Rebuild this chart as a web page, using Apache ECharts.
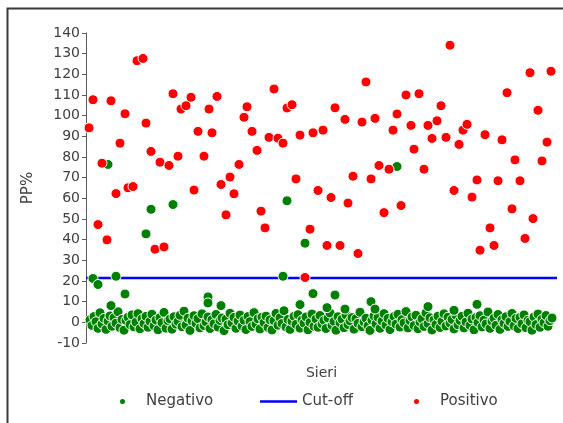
<!DOCTYPE html>
<html>
<head>
<meta charset="utf-8">
<script src="https://cdn.jsdelivr.net/npm/echarts@6/dist/echarts.min.js"></script>
<style>html,body{margin:0;padding:0;background:#fff}#c{width:563px;height:423px}</style>
</head>
<body>
<div id="c"></div>
<script>
// ---- data (x = sample position along "Sieri", y = PP%) ----
var yTicks = [-10, 0, 10, 20, 30, 40, 50, 60, 70, 80, 90, 100, 110, 120, 130, 140];
var cutoffValue = 21.5;
var sampleRange = [0, 471];

var positivoX = [3,7,12,16,21,25,30,34,39,42,47,51,57,60,65,69,74,78,83,87,92,95,100,105,108,112,118,123,126,131,135,140,144,148,153,158,161,166,171,175,179,183,188,192,197,201,206,210,214,219,224,227,232,237,241,245,249,254,259,262,267,272,276,280,285,289,293,298,303,307,311,315,320,325,328,333,338,342,346,351,355,360,364,368,373,377,381,386,391,394,399,404,408,412,416,421,426,429,434,439,444,447,452,456,461,465];
var positivoY = [94.1,107.7,47.3,77.0,39.9,107.2,62.3,86.7,100.9,65.1,65.7,126.6,127.7,96.4,82.7,35.4,77.5,36.5,75.9,110.6,80.4,103.2,104.8,108.9,64.0,92.4,80.4,103.2,91.7,109.3,66.7,52.0,70.3,62.2,76.4,99.2,104.3,92.4,83.2,53.8,45.7,89.5,112.9,89.1,86.7,103.7,105.3,69.4,90.6,21.7,45.1,91.7,63.8,93.0,37.2,60.4,103.8,37.2,98.2,57.7,70.7,33.3,96.9,116.3,69.4,98.7,75.9,53.1,74.1,93.0,100.8,56.5,110.0,95.3,83.8,110.6,74.1,95.3,89.0,97.5,104.8,89.5,134.1,63.8,86.1,93.0,95.8,60.6,68.9,34.9,90.8,45.7,37.2,68.5,88.3,111.1,54.9,78.6,68.5,40.6,120.8,50.2,102.6,78.1,87.2,121.5];

// negative sera near zero (sample positions 4, 6, 8, ...)
var negativoStart = 4;
var negativoStep = 2;
var negativoY = [
1.2,-1.5,2.8,0.3,-2.9,4.6,-0.8,1.9,-3.4,0.6,3.1,-1.9,2.2,-0.4,5.1,-2.6,1.4,-3.8,0.9,2.5,
-1.1,3.6,-2.2,0.1,4.2,-3.1,1.7,-0.6,2.9,-2.4,0.5,3.9,-1.7,1.1,-3.6,2.3,-0.2,4.8,-2.8,0.8,
1.6,-3.3,2.7,-0.9,0.4,3.4,-2.1,5.4,-1.3,2.0,-3.9,0.7,3.2,-0.5,1.8,-2.7,4.1,-1.6,0.2,2.6,
-3.0,1.3,-0.7,3.8,-2.3,0.9,2.1,-4.0,1.5,-1.2,4.4,-0.3,2.4,-2.9,0.6,3.5,-1.8,1.0,-3.5,2.8,
0.3,-2.0,4.7,-0.9,1.7,-3.2,2.5,-0.1,3.0,-2.5,1.2,-3.7,0.8,4.3,-1.4,2.2,-0.6,5.6,-2.2,1.4,
-3.4,0.5,2.9,-1.0,3.7,-2.8,1.1,-0.4,2.6,-3.6,0.0,4.0,-1.9,1.6,-2.4,3.3,-0.8,0.9,-3.0,2.1,
4.5,-1.5,0.4,-3.8,2.7,-0.2,1.5,-2.6,3.6,-1.1,0.7,2.3,-3.3,1.8,-0.5,4.9,-2.1,0.2,2.0,-1.7,
-3.9,1.0,3.1,-0.7,2.4,-2.9,0.6,4.2,-1.3,1.9,-3.5,0.3,2.8,-0.9,3.9,-2.3,1.3,-0.3,5.2,-2.7,
0.8,2.6,-1.6,3.4,-3.1,0.1,1.7,-2.0,4.6,-0.6,2.2,-3.7,1.2,-1.0,3.0,-2.5,0.5,4.1,-1.8,2.5,
-0.4,1.4,-3.2,3.5,-1.2,0.9,2.9,-2.7,0.2,4.4,-1.5,1.6,-3.6,2.3,-0.1,3.2,-2.2,1.1,-0.8,5.0,
-2.9,0.6,2.0,-1.4,3.8,-3.4,1.3,-0.5,2.7,-2.0,0.4,4.3,-1.7,1.9,-3.0,2.4,-0.7,3.6,-2.6,1.0,
0.3,-3.8,2.6,-1.1,4.0,-2.4,1.5,-0.2,3.3,-1.9,0.8,2.1
];
// negative sera with higher values
var negativoOutX = [7,12,22,25,30,39,60,65,87,122,122,135,197,201,214,219,227,241,249,259,285,289,311,342,368,391];
var negativoOutY = [21.2,18.3,76.4,8.1,22.3,13.7,42.8,54.7,57.0,12.3,9.4,8.1,22.3,58.8,8.6,38.3,13.9,7.1,13.2,6.4,10.0,6.4,75.4,7.6,5.8,8.7];

// ---- build ----
var negData = [];
for (var i = 0; i < negativoY.length; i++) negData.push([negativoStart + i * negativoStep, negativoY[i]]);
for (var j = 0; j < negativoOutX.length; j++) negData.push([negativoOutX[j], negativoOutY[j]]);
var posData = positivoX.map(function (x, k) { return [x, positivoY[k]]; });
var cutData = [[sampleRange[0], cutoffValue], [sampleRange[1], cutoffValue]];

var FONT = 'DejaVu Sans';
var TXT = '#404040';
function lg(item, left, w, h) {
  return {
    data: [item], left: left, top: 394, itemWidth: w, itemHeight: h, itemGap: 5, padding: 0,
    textStyle: { fontFamily: FONT, fontSize: 15, color: TXT }
  };
}

var chart = echarts.init(document.getElementById('c'), null, { renderer: 'canvas' });
chart.setOption({
  animation: false,
  backgroundColor: '#fff',
  grid: { left: 86, right: 6, top: 33, bottom: 80, containLabel: false },
  xAxis: {
    type: 'value', min: sampleRange[0], max: sampleRange[1],
    name: 'Sieri', nameLocation: 'middle', nameGap: 23,
    nameTextStyle: { fontFamily: FONT, fontSize: 14, color: TXT },
    axisLine: { show: false }, axisTick: { show: false }, axisLabel: { show: false }, splitLine: { show: false }
  },
  yAxis: {
    type: 'value', min: yTicks[0], max: yTicks[yTicks.length - 1], interval: 10,
    name: 'PP%', nameLocation: 'middle', nameGap: 50, nameRotate: 90,
    nameTextStyle: { fontFamily: FONT, fontSize: 15, color: TXT },
    axisLine: { show: true, onZero: false, lineStyle: { color: '#595959', width: 1 } },
    axisTick: { show: true, inside: false, length: 4, lineStyle: { color: '#595959' } },
    axisLabel: { fontFamily: FONT, fontSize: 14, color: TXT, margin: 6 },
    splitLine: { show: false }
  },
  legend: [
    lg({ name: 'Negativo', icon: 'circle' }, 118, 37, 7),
    lg({ name: 'Cut-off', icon: 'rect' }, 260, 37, 2.5),
    lg({ name: 'Positivo', icon: 'circle' }, 412, 37, 7)
  ],
  graphic: [{
    type: 'polyline', silent: true,
    shape: { points: [[563, 8.5], [7.5, 8.5], [7.5, 423]] },
    style: { stroke: '#3a3a3a', lineWidth: 2, fill: null }
  }],
  series: [
    {
      name: 'Negativo', type: 'scatter', data: negData, symbol: 'circle', symbolSize: 10, z: 3,
      itemStyle: { color: '#008000', borderColor: '#ffffff', borderWidth: 1, opacity: 1 }
    },
    {
      name: 'Cut-off', type: 'line', data: cutData, symbol: 'none', z: 1,
      lineStyle: { color: '#0000ff', width: 2.5 }, itemStyle: { color: '#0000ff' }
    },
    {
      name: 'Positivo', type: 'scatter', data: posData, symbol: 'circle', symbolSize: 10, z: 3,
      itemStyle: { color: '#ff0000', borderColor: '#ffffff', borderWidth: 1, opacity: 1 }
    }
  ]
});
</script>
</body>
</html>
